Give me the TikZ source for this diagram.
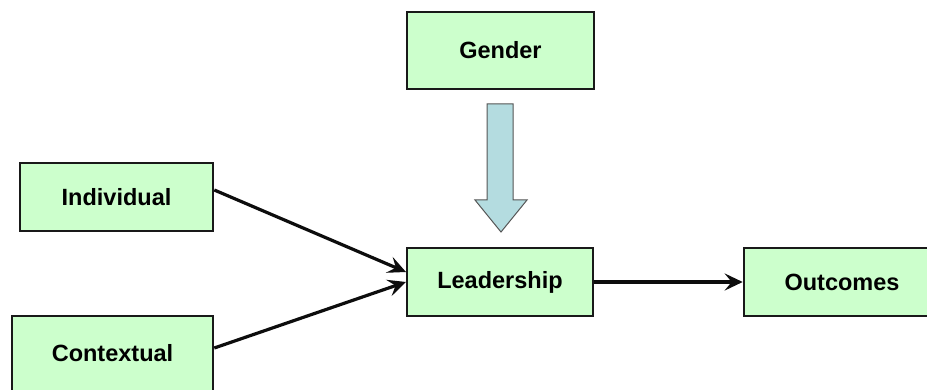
\documentclass[tikz,border=0pt]{standalone}
\usepackage{fontspec}
\setmainfont{Liberation Sans}
\usetikzlibrary{arrows.meta}
\definecolor{boxgreen}{HTML}{CCFFCC}
\definecolor{arrowblue}{HTML}{B4DCE0}
\definecolor{edgegray}{HTML}{555555}
\begin{document}
\begin{tikzpicture}[x=1pt,y=-1pt,
  factor/.style={draw=black!90,line width=2.6pt,fill=boxgreen,inner sep=0pt,
    font=\fontsize{23.5}{27}\selectfont\bfseries},
  link/.style={line width=3.2pt,black!95,
    -{Stealth[length=18pt,width=17pt,inset=7pt]}}]
\useasboundingbox (0,0) rectangle (927,390);
\clip (0,0) rectangle (927,390);
\fill[white] (0,0) rectangle (927,390);

% factor boxes
\node[factor,minimum width=187pt,minimum height=77pt] (gender) at (500.5,50.5) {Gender};
\node[factor,minimum width=193pt,minimum height=68pt] (indiv) at (116.5,197) {Individual};
\node[factor,minimum width=201pt,minimum height=75pt] (context) at (112.5,353.5) {Contextual};
\node[factor,minimum width=186pt,minimum height=68pt] (lead) at (500,282) {Leadership};
\node[factor,minimum width=196pt,minimum height=68pt] (outc) at (842,282) {Outcomes};

% moderating block arrow from Gender down onto Leadership
\coordinate (tip) at (501,232);
\draw[edgegray,line width=1pt,fill=arrowblue,line join=miter]
  (487,104) -- (513,104) -- (513,200) -- (527,200) -- (tip)
  -- (475,200) -- (487,200) -- cycle;

% causal links
\coordinate (inA) at (406,272);
\coordinate (inB) at (406,282);
\draw[link] (indiv.east |- 0,190) -- (inA);
\draw[link] (context.east |- 0,348) -- (inB);
\draw[link] (lead.east) -- (outc.west);
\end{tikzpicture}
\end{document}
